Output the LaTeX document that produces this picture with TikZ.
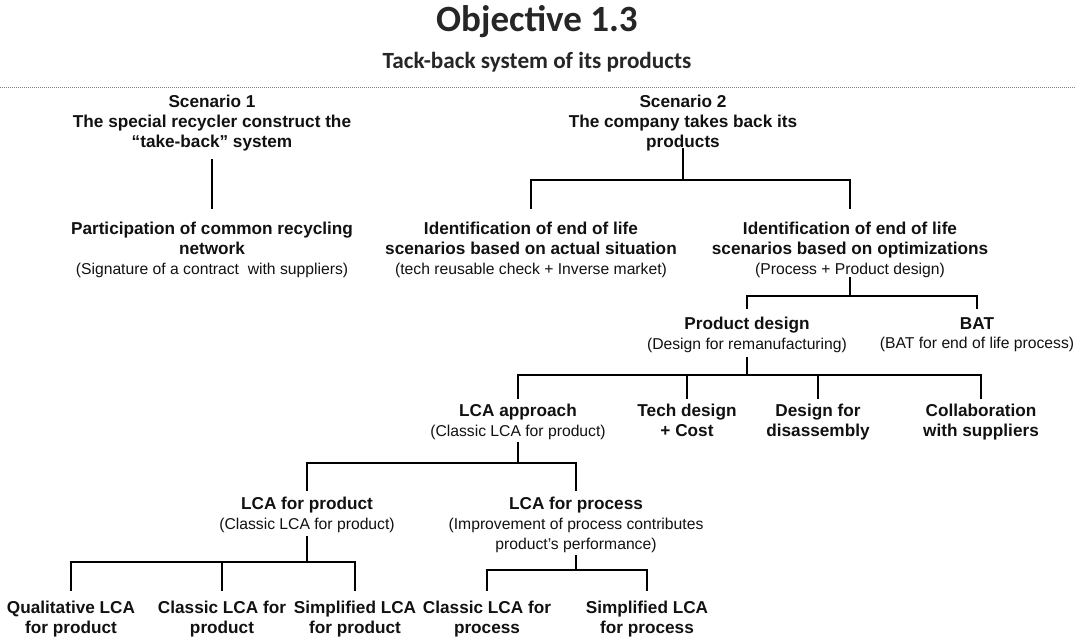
\documentclass[tikz,border=0pt]{standalone}
\usepackage{fontspec}
\setmainfont{Liberation Sans}
\newfontfamily\titlefont{Carlito}
\definecolor{txt}{HTML}{111111}
\definecolor{ttlc}{HTML}{262626}
\newcommand{\pl}[1]{{\mdseries\fontsize{15.7}{19}\selectfont #1}}
\tikzset{
  conn/.style={line width=2.4pt, draw=black, line cap=rect},
  lbl/.style={align=center, inner sep=0pt, anchor=north, text=txt,
    font=\bfseries\fontsize{17.2}{19.8}\selectfont},
  ttl/.style={inner sep=0pt, text=ttlc, font=\titlefont\bfseries\fontsize{37}{40}\selectfont},
  subttl/.style={inner sep=0pt, text=ttlc, font=\titlefont\bfseries\fontsize{23.2}{26}\selectfont},
  dotline/.style={draw=gray, line width=1pt, dash pattern=on 1pt off 1pt},
}
\begin{document}
\begin{tikzpicture}[x=1pt,y=-1pt]
\useasboundingbox (0,0) rectangle (1076,641);
\node[ttl] (title) at (537,22) {Objective 1.3};
\node[subttl] (subtitle) at (537,62) {Tack-back system of its products};
\draw[dotline] (0,87) -- (1076,87);

% level 1
\node[lbl] (s1) at (212,95) {Scenario 1\\The special recycler construct the\\“take-back” system};
\node[lbl] (s2) at (683,95) {Scenario 2\\The company takes back its\\products};
% level 2
\node[lbl] (p1) at (212,222) {Participation of common recycling\\network\\\pl{(Signature of a contract\ \ with suppliers)}};
\node[lbl] (id1) at (531,222) {Identification of end of life\\scenarios based on actual situation\\\pl{(tech reusable check + Inverse market)}};
\node[lbl] (id2) at (850,222) {Identification of end of life\\scenarios based on optimizations\\\pl{(Process + Product design)}};
% level 3
\node[lbl] (pd) at (747,317) {Product design\\\pl{(Design for remanufacturing)}};
\node[lbl] (bat) at (977,317) {BAT\\\pl{(BAT for end of life process)}};
% level 4
\node[lbl] (lcaa) at (518,404) {LCA approach\\\pl{(Classic LCA for product)}};
\node[lbl] (tech) at (687,404) {Tech design\\+ Cost};
\node[lbl] (dfd) at (818,404) {Design for\\disassembly};
\node[lbl] (coll) at (981,404) {Collaboration\\with suppliers};
% level 5
\node[lbl] (lprod) at (307,497) {LCA for product\\\pl{(Classic LCA for product)}};
\node[lbl] (lproc) at (576,497) {LCA for process\\\pl{(Improvement of process contributes}\\\pl{product’s performance)}};
% leaves
\node[lbl] (q1) at (71,601) {Qualitative LCA\\for product};
\node[lbl] (c1) at (222,601) {Classic LCA for\\product};
\node[lbl] (sp1) at (355,601) {Simplified LCA\\for product};
\node[lbl] (c2) at (487,601) {Classic LCA for\\process};
\node[lbl] (sp2) at (647,601) {Simplified LCA\\for process};

% bus coordinates
\coordinate (b2) at (0,180);
\coordinate (b3) at (0,296);
\coordinate (b4) at (0,375);
\coordinate (b5) at (0,463);
\coordinate (b6) at (0,562);
\coordinate (b7) at (0,570);

% connectors
\draw[conn] ([yshift=-9.5pt]s1.south) -- ([yshift=14pt]p1.north);
\draw[conn] ([yshift=1.5pt]s2.south) -- (s2.south |- b2);
\draw[conn] ([yshift=14pt]id1.north) |- (id2.north |- b2) -- ([yshift=14pt]id2.north);
\draw[conn] ([yshift=-0.5pt]id2.south) -- (id2.south |- b3);
\draw[conn] ([yshift=9pt]pd.north) |- (bat.north |- b3) -- ([yshift=9pt]bat.north);
\draw[conn] ([yshift=-5pt]pd.south) -- (pd.south |- b4);
\draw[conn] ([yshift=6pt]lcaa.north) |- (coll.north |- b4) -- ([yshift=6pt]coll.north);
\draw[conn] ([yshift=6pt]tech.north) -- (tech.north |- b4);
\draw[conn] ([yshift=6pt]dfd.north) -- (dfd.north |- b4);
\draw[conn] ([yshift=-3pt]lcaa.south) -- (lcaa.south |- b5);
\draw[conn] ([yshift=7pt]lprod.north) |- (lproc.north |- b5) -- ([yshift=7pt]lproc.north);
\draw[conn] ([yshift=-4pt]lprod.south) -- (lprod.south |- b6);
\draw[conn] ([yshift=11pt]q1.north) |- (sp1.north |- b6) -- ([yshift=11pt]sp1.north);
\draw[conn] ([yshift=11pt]c1.north) -- (c1.north |- b6);
\draw[conn] ([yshift=-3pt]lproc.south) -- (lproc.south |- b7);
\draw[conn] ([yshift=11pt]c2.north) |- (sp2.north |- b7) -- ([yshift=11pt]sp2.north);
\end{tikzpicture}
\end{document}
